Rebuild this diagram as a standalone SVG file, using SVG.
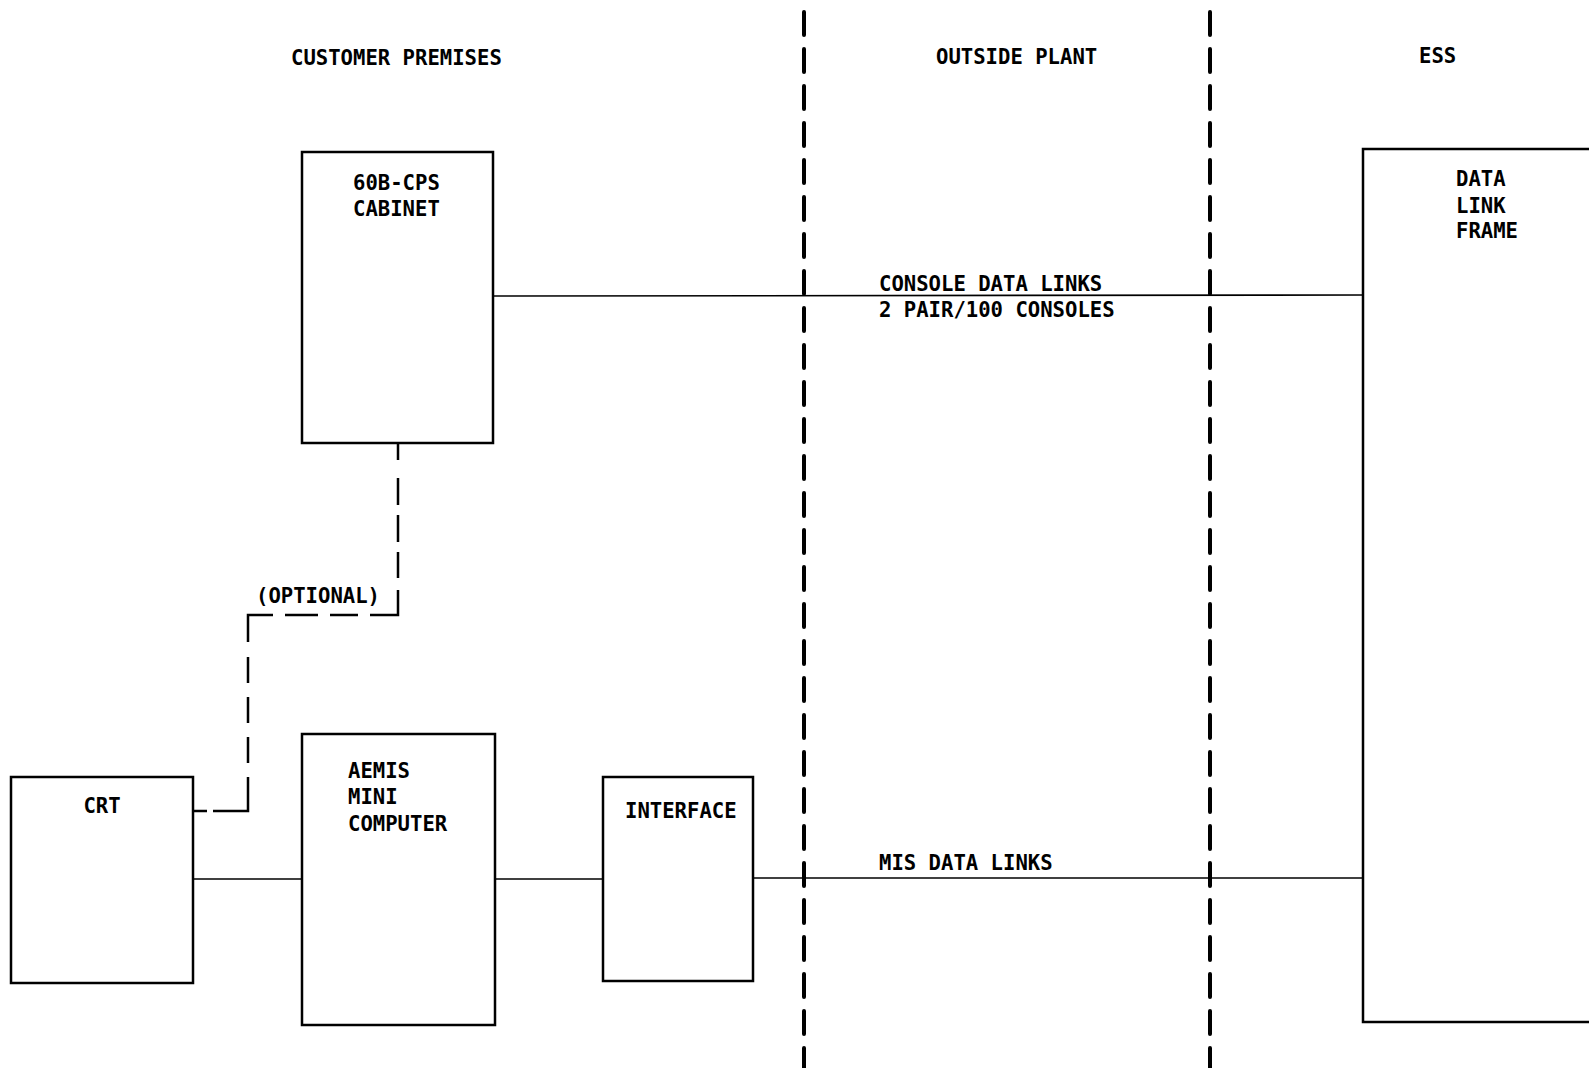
<svg xmlns="http://www.w3.org/2000/svg" width="1589" height="1068" viewBox="0 0 1589 1068">
<style>
text{font-family:"DejaVu Sans Mono","Liberation Mono",monospace;font-size:20.6px;font-weight:bold;fill:#000}
.box{fill:#fff;stroke:#000;stroke-width:2.5}
.wire{fill:none;stroke:#000;stroke-width:1.6}
.opt{fill:none;stroke:#000;stroke-width:2.5;stroke-linejoin:miter}
.div{fill:none;stroke:#000;stroke-width:4;stroke-linecap:round;stroke-dasharray:23 14}
</style>
<rect width="1589" height="1068" fill="#fff"/>
<g id="headings">
<text x="291" y="65">CUSTOMER PREMISES</text>
<text x="936" y="64">OUTSIDE PLANT</text>
<text x="1419" y="63">ESS</text>
</g>
<g id="dividers">
<line class="div" x1="804" y1="12" x2="804" y2="1068"/>
<line class="div" x1="1210" y1="12" x2="1210" y2="1068"/>
</g>
<g id="connectors">
<line class="wire" x1="493" y1="296" x2="1363" y2="295"/>
<line class="wire" x1="193" y1="879" x2="302" y2="879"/>
<line class="wire" x1="495" y1="879" x2="603" y2="879"/>
<line class="wire" x1="753" y1="878" x2="1363" y2="878"/>
<path class="opt" d="M398 443 V460 M398 478 V505 M398 515 V542 M398 552 V578 M398 590 V615 H370 M358 615 H330 M318 615 H285 M273 615 H248 V642 M248 657 V683 M248 697 V723 M248 737 V763 M248 777 V811 H213 M207 811 H193"/>
<text x="256" y="603">(OPTIONAL)</text>
<text x="879" y="291">CONSOLE DATA LINKS</text>
<text x="879" y="317">2 PAIR/100 CONSOLES</text>
<text x="879" y="870">MIS DATA LINKS</text>
</g>
<g id="cabinet">
<rect class="box" x="302" y="152" width="191" height="291"/>
<text x="353" y="190">60B-CPS</text>
<text x="353" y="216">CABINET</text>
</g>
<g id="crt">
<rect class="box" x="11" y="777" width="182" height="206"/>
<text x="102" y="813" text-anchor="middle">CRT</text>
</g>
<g id="aemis">
<rect class="box" x="302" y="734" width="193" height="291"/>
<text x="348" y="778">AEMIS</text>
<text x="348" y="804">MINI</text>
<text x="348" y="831">COMPUTER</text>
</g>
<g id="interface">
<rect class="box" x="603" y="777" width="150" height="204"/>
<text x="625" y="818">INTERFACE</text>
</g>
<g id="datalinkframe">
<rect class="box" x="1363" y="149" width="260" height="873"/>
<text x="1456" y="186">DATA</text>
<text x="1456" y="213">LINK</text>
<text x="1456" y="238">FRAME</text>
</g>
</svg>
